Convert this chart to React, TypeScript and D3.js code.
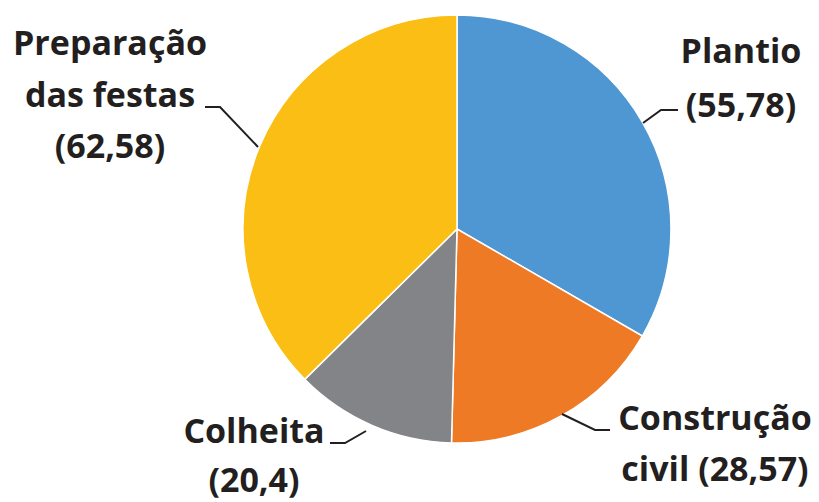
import React from "react";
import * as d3 from "d3";

const categories = ["Plantio", "Construção civil", "Colheita", "Preparação das festas"];
const values = [55.78, 28.57, 20.4, 62.58];
const valueLabels = ["55,78", "28,57", "20,4", "62,58"];
const colors = ["#4E97D2", "#EE7A25", "#838487", "#FBBE15"];

const labelLines = [
  ["Plantio", "(55,78)"],
  ["Construção", "civil (28,57)"],
  ["Colheita", "(20,4)"],
  ["Preparação", "das festas", "(62,58)"],
];
const labelPos = [
  { x: 741, y: 63 },
  { x: 715, y: 430 },
  { x: 254, y: 443 },
  { x: 110, y: 55 },
];
const lineGap = [54, 51, 49, 51.5];
const leaders = [
  [[643, 123], [661, 110], [678, 110]],
  [[562, 414], [595, 430], [610, 430]],
  [[366, 431], [345, 443], [330, 443]],
  [[258, 147], [220, 107], [205, 107]],
];

export default function App() {
  const W = 819, H = 502;
  const cx = 457, cy = 229, r = 214;
  const pie = d3.pie<number>().sort(null).value((d) => d)(values);
  const arc = d3.arc<d3.PieArcDatum<number>>().innerRadius(0).outerRadius(r);
  const line = d3.line();
  return (
    <svg width={W} height={H} style={{ position: "absolute", left: 0, top: 0 }}>
      <rect width={W} height={H} fill="#fff" />
      <g transform={`translate(${cx},${cy})`}>
        {pie.map((p, i) => (
          <path key={categories[i]} d={arc(p) || ""} fill={colors[i]} stroke="#fff" strokeWidth={1.5} />
        ))}
      </g>
      {leaders.map((pts, i) => (
        <path key={i} d={line(pts as [number, number][]) || ""} fill="none" stroke="#231F20" strokeWidth={2} />
      ))}
      {labelLines.map((lines, i) => (
        <text
          key={i}
          textAnchor="middle"
          fontFamily="'Open Sans', sans-serif"
          fontWeight="bold"
          fontSize={34}
          fill="#231F20"
        >
          {lines.map((t, j) => (
            <tspan key={j} x={labelPos[i].x} y={labelPos[i].y + j * lineGap[i]}>
              {t}
            </tspan>
          ))}
        </text>
      ))}
      <desc>{valueLabels.join(" ")}</desc>
    </svg>
  );
}
